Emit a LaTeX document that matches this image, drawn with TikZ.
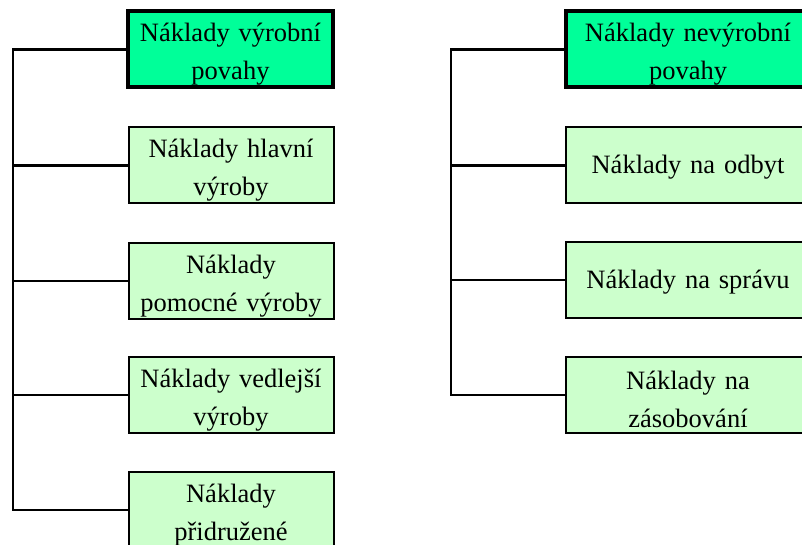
\documentclass[tikz,border=0pt]{standalone}
\usepackage{fontspec}
\setmainfont{Liberation Serif}
\definecolor{topgreen}{RGB}{0,255,153}
\definecolor{subgreen}{RGB}{204,255,204}
\begin{document}
\begin{tikzpicture}[x=1pt,y=-1pt,
  box/.style={draw,fill=subgreen,line width=2pt,minimum width=205pt,minimum height=76pt,
    inner sep=0pt,text width=203pt,align=center,text height=28pt,
    font=\fontsize{26.5}{38}\selectfont},
  headbox/.style={box,fill=topgreen,line width=4pt},
  wide/.style={minimum width=244pt,text width=240pt},
  oneline/.style={text height=22pt},
  conn/.style={line width=2.5pt}]
\clip (0,0) rectangle (802,545);
\coordinate (lspine) at (13,0);
\coordinate (rspine) at (451,0);
% vyrobni naklady
\node[headbox] (vyr) at (230.5,49.5) {Náklady výrobní\\povahy};
\node[box] (hlavni) at (231,165.5) {Náklady hlavní\\výroby};
\node[box] (pomocne) at (231,281) {Náklady\\pomocné výroby};
\node[box] (vedlejsi) at (231,395) {Náklady vedlejší\\výroby};
\node[box] (pridruzene) at (231,510) {Náklady\\přidružené};
% nevyrobni naklady
\node[headbox,wide] (nevyr) at (688,49.5) {Náklady nevýrobní\\povahy};
\node[box,wide,oneline] (odbyt) at (688,165.5) {Náklady na odbyt};
\node[box,wide,oneline] (sprava) at (688,280) {Náklady na správu};
\node[box,wide] (zasob) at (688,395) {Náklady na\\zásobování};
\draw[conn] (vyr.west) -| (lspine |- pridruzene.west) -- (pridruzene.west);
\foreach \n in {hlavni,pomocne,vedlejsi}
  \draw[conn] (\n.west) -- (lspine |- \n.west);
\draw[conn] (nevyr.west) -| (rspine |- zasob.west) -- (zasob.west);
\foreach \n in {odbyt,sprava}
  \draw[conn] (\n.west) -- (rspine |- \n.west);
\end{tikzpicture}
\end{document}
